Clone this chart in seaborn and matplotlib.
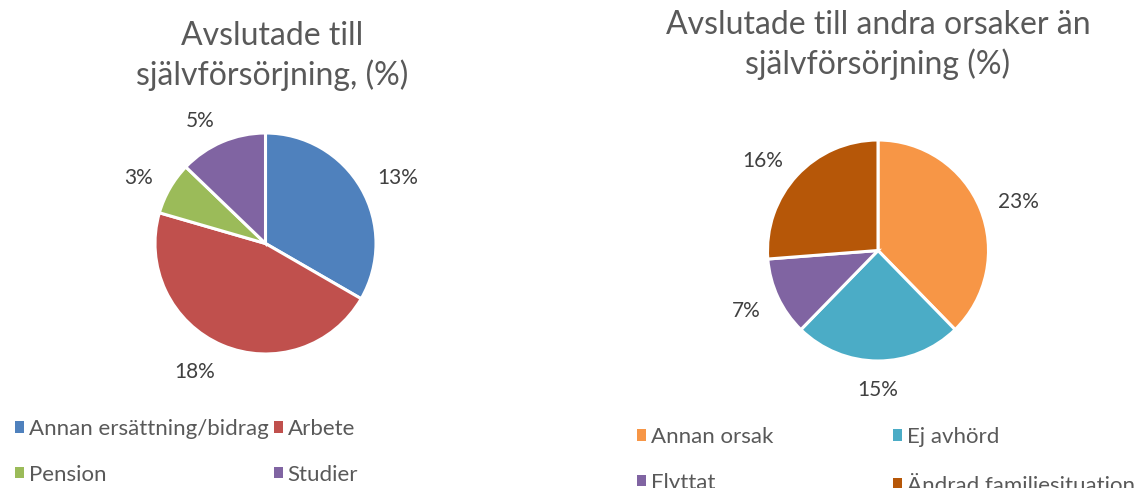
import matplotlib
matplotlib.use("Agg")
import numpy as np
import matplotlib.pyplot as plt
import seaborn as sns
from matplotlib.patches import Patch

# Left chart: ended into self-support
left_title = "Avslutade till\nsjälvförsörjning, (%)"
left_labels = ["Annan ersättning/bidrag", "Arbete", "Pension", "Studier"]
left_values = [13, 18, 3, 5]
left_colors = ["#4F81BD", "#C0504D", "#9BBB59", "#8064A2"]

# Right chart: ended for other reasons
right_title = "Avslutade till andra orsaker än\nsjälvförsörjning (%)"
right_labels = ["Annan orsak", "Ej avhörd", "Flyttat", "Ändrad familjesituation"]
right_values = [23, 15, 7, 16]
right_colors = ["#F79646", "#4BACC6", "#8064A2", "#B65708"]

sns.set_theme(style="white")
plt.rcParams["font.family"] = ["Lato", "DejaVu Sans"]

W, H = 1137, 488
fig = plt.figure(figsize=(W / 100, H / 100), dpi=100)

TITLE_C = "#595959"
LABEL_C = "#404040"
R_PX = 110.5
GAP_PX = 19


def pie_axes(cx, cy, r, lim=1.5):
    # square axes in pixel coords, centred on the pie
    side = 2 * r * lim
    ax = fig.add_axes([(cx - side / 2) / W, 1 - (cy + side / 2) / H, side / W, side / H])
    return ax


def draw_pie(ax, values, colors):
    wedges, texts = ax.pie(values, colors=colors, startangle=90, counterclock=False,
                           labels=[f"{v}%" for v in values], labeldistance=1.3,
                           wedgeprops=dict(edgecolor="white", linewidth=2.2),
                           textprops=dict(color=LABEL_C, fontsize=15))
    ax.set_xlim(-1.5, 1.5)
    ax.set_ylim(-1.5, 1.5)
    ax.set_aspect("equal")
    ax.axis("off")
    return wedges, texts


def place_labels(wedges, texts):
    # outside-end labels: box pushed off the rim along the mid angle
    renderer = fig.canvas.get_renderer()
    for w, t in zip(wedges, texts):
        t.set_ha("center")
        t.set_va("center")
        bb = t.get_window_extent(renderer)
        hw, hh = bb.width / 2 / R_PX, bb.height / 2 * 0.7 / R_PX
        ang = np.deg2rad((w.theta1 + w.theta2) / 2)
        c, s = np.cos(ang), np.sin(ang)
        d = 1 + GAP_PX / R_PX
        sx = 0.0 if abs(c) < 1e-6 else np.sign(c)
        t.set_position((d * c + sx * hw, d * s + hh * s - 3 / R_PX))


def legend_col(x, y, labels, colors):
    handles = [Patch(facecolor=c, edgecolor="none") for c in colors]
    fig.legend(handles, labels, loc="upper left",
               bbox_to_anchor=(x / W, 1 - y / H), frameon=False,
               fontsize=16, labelcolor=TITLE_C, handlelength=0.4,
               handleheight=0.4, handletextpad=0.22, borderpad=0,
               borderaxespad=0, labelspacing=1.15)


ax1 = pie_axes(265.5, 243.5, R_PX)
w1, t1 = draw_pie(ax1, left_values, left_colors)
ax2 = pie_axes(878, 250.5, R_PX)
w2, t2 = draw_pie(ax2, right_values, right_colors)
fig.canvas.draw()
place_labels(w1, t1)
place_labels(w2, t2)

fig.text(272 / W, 1 - 56 / H, left_title, ha="center", va="center",
         fontsize=23, color=TITLE_C, linespacing=1.33)
fig.text(878 / W, 1 - 45 / H, right_title, ha="center", va="center",
         fontsize=23, color=TITLE_C, linespacing=1.36)

legend_col(15, 419, [left_labels[0], left_labels[2]], [left_colors[0], left_colors[2]])
legend_col(274, 419, [left_labels[1], left_labels[3]], [left_colors[1], left_colors[3]])
legend_col(637, 427, [right_labels[0], right_labels[2]], [right_colors[0], right_colors[2]])
legend_col(893, 427, [right_labels[1], right_labels[3]], [right_colors[1], right_colors[3]])

fig.savefig("out.png", dpi=100, facecolor="white")
